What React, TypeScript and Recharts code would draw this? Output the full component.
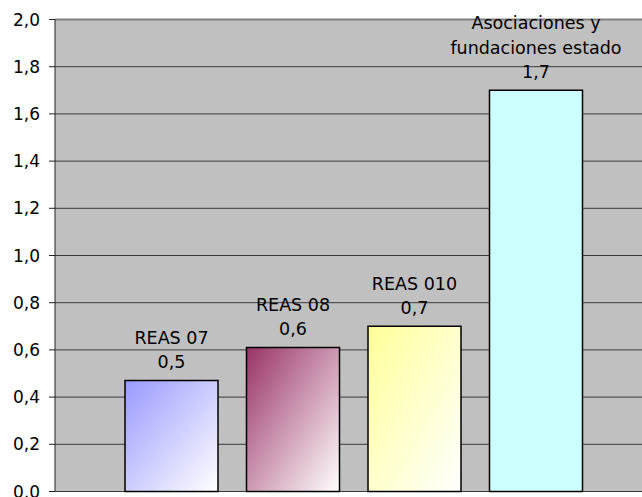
import React from 'react';
import {
  BarChart,
  Bar,
  XAxis,
  YAxis,
  CartesianGrid,
  Cell,
  LabelList,
  ReferenceLine,
} from 'recharts';

const categories = ['REAS 07', 'REAS 08', 'REAS 010', 'Asociaciones y fundaciones estado'];
const values = [0.47, 0.61, 0.7, 1.7];
const yTicks = [0, 0.2, 0.4, 0.6, 0.8, 1.0, 1.2, 1.4, 1.6, 1.8, 2.0];

// fill ids, one per bar (the last one is flat)
const fills = ['url(#gBlue)', 'url(#gPlum)', 'url(#gYellow)', '#CCFFFF'];

const data = categories.map((name, i) => ({ name, value: values[i] }));

const FONT = '"DejaVu Sans", Verdana, sans-serif';
const comma = (v: number) => v.toFixed(1).replace('.', ',');

// split long category names into lines of at most ~20 chars
const wrap = (s: string, max = 20) => {
  const lines: string[] = [];
  let cur = '';
  s.split(' ').forEach((w) => {
    const next = cur ? cur + ' ' + w : w;
    if (next.length > max && cur) {
      lines.push(cur);
      cur = w;
    } else {
      cur = next;
    }
  });
  if (cur) lines.push(cur);
  return lines;
};

const BarLabel = (props: any) => {
  const { x, y, width, index, value } = props;
  const cx = x + width / 2;
  const valueY = y - 12.5;
  const lines = wrap(categories[index]);
  return (
    <g>
      {lines.map((ln, i) => (
        <text
          key={i}
          x={cx}
          y={valueY - 24.3 * (lines.length - i)}
          textAnchor="middle"
          fontSize={17.5}
          fontFamily={FONT}
          fill="#000"
        >
          {ln}
        </text>
      ))}
      <text x={cx} y={valueY} textAnchor="middle" fontSize={17.5} fontFamily={FONT} fill="#000">
        {comma(value)}
      </text>
    </g>
  );
};

export default function App() {
  return (
    <div style={{ position: 'absolute', left: 0, top: 0, width: 642, height: 497, background: '#fff' }}>
      <BarChart
        width={642}
        height={497}
        data={data}
        margin={{ top: 19.5, right: 0, bottom: 5.5, left: 0 }}
      >
        <defs>
          <linearGradient id="gBlue" x1="0" y1="0" x2="1" y2="1">
            <stop offset="0%" stopColor="#9999FF" />
            <stop offset="100%" stopColor="#FFFFFF" />
          </linearGradient>
          <linearGradient id="gPlum" x1="0" y1="0" x2="1" y2="1">
            <stop offset="0%" stopColor="#993366" />
            <stop offset="100%" stopColor="#FFFFFF" />
          </linearGradient>
          <linearGradient id="gYellow" x1="0" y1="0" x2="1" y2="1">
            <stop offset="0%" stopColor="#FFFF99" />
            <stop offset="100%" stopColor="#FFFFFF" />
          </linearGradient>
        </defs>
        <CartesianGrid fill="#C0C0C0" vertical={false} stroke="#3a3a3a" strokeDasharray="" />
        <XAxis
          dataKey="name"
          height={0}
          tick={false}
          tickLine={false}
          axisLine={{ stroke: '#808080', strokeWidth: 2 }}
          padding={{ left: 56, right: 45 }}
        />
        <YAxis
          width={55}
          domain={[0, 2]}
          ticks={yTicks}
          interval={0}
          tickFormatter={comma}
          tickSize={6}
          tickMargin={9}
          tick={{ fill: '#000', fontSize: 17, fontFamily: FONT }}
          tickLine={{ stroke: '#222' }}
          axisLine={{ stroke: '#222' }}
        />
        <ReferenceLine y={2} stroke="#808080" strokeWidth={2} />
        <Bar dataKey="value" barSize={93} stroke="#000" strokeWidth={1.5} isAnimationActive={false}>
          {data.map((d, i) => (
            <Cell key={d.name} fill={fills[i]} />
          ))}
          <LabelList dataKey="value" content={BarLabel} />
        </Bar>
      </BarChart>
    </div>
  );
}
